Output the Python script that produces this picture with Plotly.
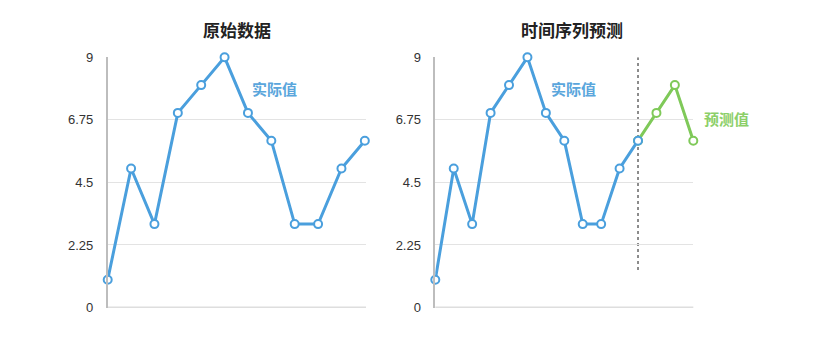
import plotly.graph_objects as go

# Data
actual = [1, 5, 3, 7, 8, 9, 7, 6, 3, 3, 5, 6]
forecast_x = [11, 12, 13, 14]
forecast = [6, 7, 8, 6]
yticks = [0, 2.25, 4.5, 6.75, 9]
yticklabels = ["0", "2.25", "4.5", "6.75", "9"]
titles = ["原始数据", "时间序列预测"]
label_actual = "实际值"
label_forecast = "预测值"

BLUE = "#4a9fdd"
GREEN = "#7fc959"
BLUE_TXT = "#5aa6dc"
GREEN_TXT = "#8ccf68"
GRID = "#e3e3e3"
AXIS = "#bdbdbd"
FONT = "Helvetica, Arial, Liberation Sans, Noto Sans CJK SC"
CJK = "Noto Sans CJK SC"

W, H = 825, 337
def px(x): return x / W
def py(y): return (H - y) / H

fig = go.Figure()

marker = dict(symbol="circle", size=8, color="white", line=dict(color=BLUE, width=2))

fig.add_trace(go.Scatter(x=list(range(len(actual))), y=actual, mode="lines+markers",
                         line=dict(color=BLUE, width=3), marker=marker,
                         cliponaxis=False, xaxis="x", yaxis="y", showlegend=False))

fig.add_trace(go.Scatter(x=forecast_x, y=forecast, mode="lines+markers",
                         line=dict(color=GREEN, width=3),
                         marker=dict(symbol="circle", size=8, color="white", line=dict(color=GREEN, width=2)),
                         cliponaxis=False, xaxis="x2", yaxis="y2", showlegend=False))
fig.add_trace(go.Scatter(x=list(range(len(actual))), y=actual, mode="lines+markers",
                         line=dict(color=BLUE, width=3), marker=marker,
                         cliponaxis=False, xaxis="x2", yaxis="y2", showlegend=False))

ydom = [py(307.5), py(57.3)]
common_x = dict(showgrid=False, zeroline=False, showticklabels=False, ticks="",
                showline=False, fixedrange=True, automargin=False)
common_y = dict(range=[0, 9], tickvals=yticks, ticktext=yticklabels, showgrid=True,
                gridcolor=GRID, gridwidth=1, zeroline=False, showline=True, linecolor=AXIS,
                linewidth=1.5, ticks="", tickfont=dict(family=FONT, size=13, color="#333333"),
                domain=ydom, fixedrange=True, automargin=False)

fig.update_layout(
    template="none",
    width=W, height=H, margin=dict(l=0, r=0, t=0, b=0, pad=0, autoexpand=False),
    paper_bgcolor="white", plot_bgcolor="white",
    xaxis=dict(domain=[px(107.7), px(366)], range=[0, 11.05], anchor="y", **common_x),
    yaxis=dict(anchor="x", ticklabelstandoff=10, **common_y),
    xaxis2=dict(domain=[px(435.3), px(693.3)], range=[0, 14], anchor="y2", **common_x),
    yaxis2=dict(anchor="x2", ticklabelstandoff=10, **common_y),
)

# bottom axis lines
for xr, yr in (("x", "y"), ("x2", "y2")):
    fig.add_shape(type="line", xref=f"{xr} domain", yref=yr, x0=0, x1=1, y0=0, y1=0,
                  line=dict(color=AXIS, width=1.5), layer="below")

# forecast divider
fig.add_shape(type="line", xref="x2", yref="y2", x0=11, x1=11, y0=1.35, y1=9,
              line=dict(color="#666666", width=1.5, dash="dot"), layer="below")

# titles
for xc, t in ((237, titles[0]), (572, titles[1])):
    fig.add_annotation(x=px(xc), y=py(30), xref="paper", yref="paper", text=t,
                       yanchor="middle", xanchor="center", showarrow=False,
                       font=dict(family=CJK, size=17, color="#222222", weight="bold"))

# series labels
for xc, yc, t, c in ((274, 88, label_actual, BLUE_TXT), (573, 88, label_actual, BLUE_TXT),
                     (726, 118, label_forecast, GREEN_TXT)):
    fig.add_annotation(x=px(xc), y=py(yc), xref="paper", yref="paper", text=t,
                       yanchor="middle", xanchor="center", showarrow=False,
                       font=dict(family=CJK, size=15, color=c, weight="bold"))

fig.write_html("out.html")
